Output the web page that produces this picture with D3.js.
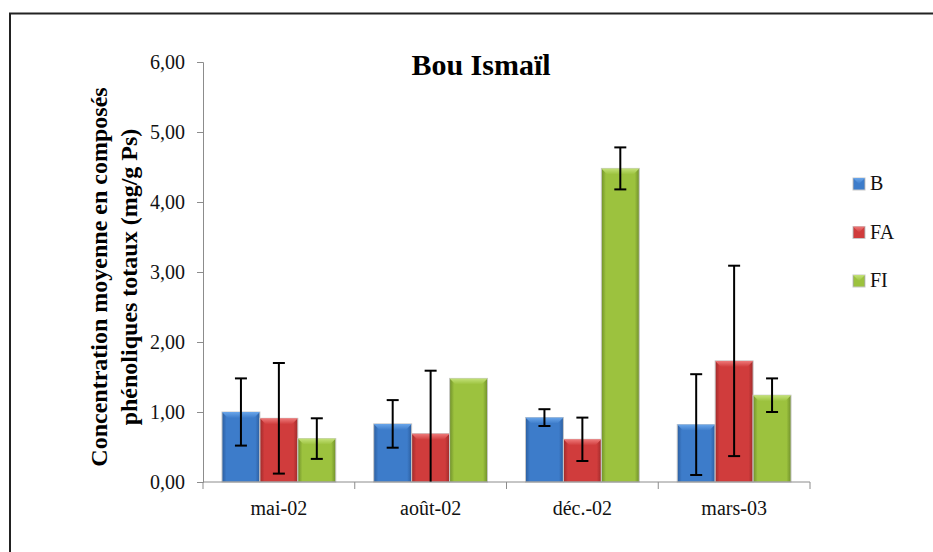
<!DOCTYPE html>
<html>
<head>
<meta charset="utf-8">
<script src="https://cdn.jsdelivr.net/npm/d3@7"></script>
<style>
  body { margin: 0; background: #fff; }
  svg { display: block; }
  svg text { font-family: "Liberation Serif", "Times New Roman", serif; }
</style>
</head>
<body>
<svg id="chart"></svg>
<script>
// données
const categories = ["mai-02", "août-02", "déc.-02", "mars-03"];
const series = ["B", "FA", "FI"];
const valuesB = [1.00, 0.83, 0.92, 0.82];
const valuesFA = [0.91, 0.69, 0.61, 1.73];
const valuesFI = [0.62, 1.48, 4.48, 1.24];
const errB = [0.48, 0.34, 0.12, 0.72];
const errFA = [0.79, 0.90, 0.31, 1.36];
const errFI = [0.29, null, 0.30, 0.24];
const yTicks = [0, 1, 2, 3, 4, 5, 6];

const W = 933, H = 552;
const FONT = "Liberation Serif, Times New Roman, serif";
const svg = d3.select("#chart").attr("width", W).attr("height", H);

// couleurs de chaque série : [bord sombre, centre, clair]
const palette = {
    B: ["#2b5d9e", "#3d7cca", "#6aa6ea"],
    FA: ["#9e2a2a", "#d03c3c", "#ee7a7a"],
    FI: ["#6f8f2a", "#9cc23e", "#c4e27a"]
};

const defs = svg.append("defs");
series.forEach(s => {
    const c = palette[s];
    const g = defs.append("linearGradient").attr("id", "side-" + s)
        .attr("x1", 0).attr("x2", 1).attr("y1", 0).attr("y2", 0);
    g.append("stop").attr("offset", "0%").attr("stop-color", c[0]);
    g.append("stop").attr("offset", "12%").attr("stop-color", c[1]);
    g.append("stop").attr("offset", "88%").attr("stop-color", c[1]);
    g.append("stop").attr("offset", "100%").attr("stop-color", c[0]);
    const t = defs.append("linearGradient").attr("id", "top-" + s)
        .attr("x1", 0).attr("x2", 0).attr("y1", 0).attr("y2", 1);
    t.append("stop").attr("offset", "0%").attr("stop-color", c[2]);
    t.append("stop").attr("offset", "100%").attr("stop-color", c[1]);
});

// cadre
svg.append("rect")
    .attr("x", 10).attr("y", 13.5)
    .attr("width", W + 20).attr("height", H + 20)
    .attr("fill", "none").attr("stroke", "#222").attr("stroke-width", 2);

const x0 = d3.scaleBand().domain(categories).range([203, 810]);
const x1 = d3.scaleBand().domain(series).range([0, x0.bandwidth()]).paddingOuter(0.5);
const y = d3.scaleLinear().domain([0, 6]).range([482, 62]);

const fmt = v => d3.format(".2f")(v).replace(".", ",");

// axe Y
const yAxis = svg.append("g")
    .attr("transform", "translate(203,0)")
    .call(d3.axisLeft(y).tickValues(yTicks).tickFormat(fmt).tickSize(6).tickPadding(12))
    .attr("font-family", FONT).attr("font-size", 20);
yAxis.select(".domain").attr("stroke", "#8c8c8c");
yAxis.selectAll(".tick line").attr("stroke", "#8c8c8c");
yAxis.selectAll("text").attr("fill", "#111").attr("font-family", FONT);

// barres
const rows = categories.map((c, i) => ({
    cat: c,
    items: [
        { s: "B", v: valuesB[i], e: errB[i] },
        { s: "FA", v: valuesFA[i], e: errFA[i] },
        { s: "FI", v: valuesFI[i], e: errFI[i] }
    ]
}));

const groups = svg.append("g").selectAll("g")
    .data(rows).join("g")
    .attr("transform", d => `translate(${x0(d.cat)},0)`);

const bars = groups.selectAll("g.bar")
    .data(d => d.items).join("g").attr("class", "bar");

const bw = x1.bandwidth();
bars.append("rect")
    .attr("x", d => x1(d.s)).attr("y", d => y(d.v))
    .attr("width", bw).attr("height", d => y(0) - y(d.v))
    .attr("fill", d => `url(#side-${d.s})`)
    .attr("stroke", "#c8c8c8").attr("stroke-width", 1);

// biseau du haut
bars.append("path")
    .attr("d", d => {
        const xa = x1(d.s), ya = y(d.v), b = 6;
        return `M${xa},${ya}L${xa + bw},${ya}L${xa + bw - b},${ya + b}L${xa + b},${ya + b}Z`;
    })
    .attr("fill", d => `url(#top-${d.s})`);

// barres d'erreur
const eb = bars.filter(d => d.e != null).append("g")
    .attr("stroke", "#000").attr("stroke-width", 2);
const cx = d => x1(d.s) + bw / 2;
eb.append("line")
    .attr("x1", cx).attr("x2", cx)
    .attr("y1", d => y(d.v + d.e)).attr("y2", d => y(Math.max(0, d.v - d.e)));
eb.append("line")
    .attr("x1", d => cx(d) - 6).attr("x2", d => cx(d) + 6)
    .attr("y1", d => y(d.v + d.e)).attr("y2", d => y(d.v + d.e));
eb.filter(d => d.v - d.e > 0).append("line")
    .attr("x1", d => cx(d) - 6).attr("x2", d => cx(d) + 6)
    .attr("y1", d => y(d.v - d.e)).attr("y2", d => y(d.v - d.e));

// axe X
const xAxis = svg.append("g").attr("transform", "translate(0,482)");
xAxis.append("line")
    .attr("x1", 203).attr("x2", 810).attr("stroke", "#8c8c8c");
xAxis.selectAll("line.tk")
    .data(categories.map(c => x0(c)).concat([x0.range()[1]]))
    .join("line").attr("class", "tk")
    .attr("x1", d => d).attr("x2", d => d).attr("y1", 0).attr("y2", 7)
    .attr("stroke", "#8c8c8c");
xAxis.selectAll("text")
    .data(categories).join("text")
    .attr("x", d => x0(d) + x0.bandwidth() / 2).attr("y", 33)
    .attr("text-anchor", "middle").attr("font-size", 20).attr("fill", "#111")
    .attr("font-family", FONT)
    .text(d => d);

// titre
svg.append("text")
    .attr("x", 481).attr("y", 75)
    .attr("text-anchor", "middle").attr("font-size", 30).attr("font-weight", "bold")
    .attr("font-family", FONT)
    .text("Bou Ismaïl");

// titre de l'axe Y
const yTitle = svg.append("text")
    .attr("transform", "translate(0,277) rotate(-90)")
    .attr("text-anchor", "middle").attr("font-size", 24).attr("font-weight", "bold")
    .attr("font-family", FONT);
yTitle.append("tspan").attr("x", 0).attr("y", 107).text("Concentration moyenne en composés");
yTitle.append("tspan").attr("x", 0).attr("y", 137).text("phénoliques totaux (mg/g Ps)");

// légende
const legend = svg.append("g").selectAll("g")
    .data(series).join("g")
    .attr("transform", (d, i) => `translate(853,${190 + i * 48.5})`);
legend.append("rect")
    .attr("x", 0).attr("y", -12).attr("width", 12).attr("height", 12)
    .attr("fill", d => `url(#side-${d})`).attr("stroke", "#c8c8c8");
legend.append("path")
    .attr("d", "M0,-12L12,-12L6,-6Z")
    .attr("fill", d => `url(#top-${d})`);
legend.append("text")
    .attr("x", 17).attr("y", 0).attr("font-size", 20).attr("fill", "#111")
    .attr("font-family", FONT)
    .text(d => d);
</script>
</body>
</html>
